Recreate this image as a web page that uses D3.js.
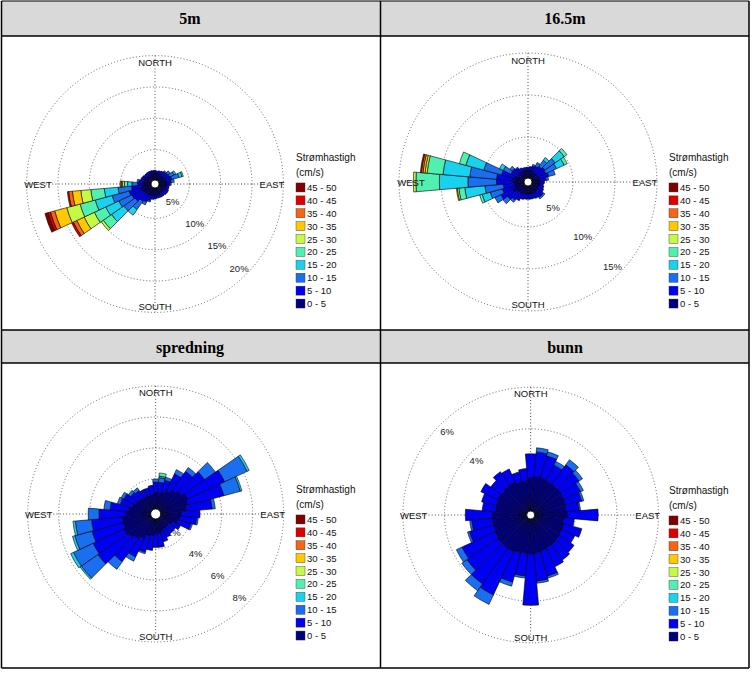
<!DOCTYPE html>
<html><head><meta charset="utf-8">
<script src="https://cdn.jsdelivr.net/npm/d3@7"></script>
<style>body{margin:0;background:#fff;}svg{display:block;}</style>
</head><body>
<script>
// ---- DATA ----
const panelTitles = ["5m", "16.5m", "spredning", "bunn"];
const speedClasses = ["0 - 5","5 - 10","10 - 15","15 - 20","20 - 25","25 - 30","30 - 35","35 - 40","40 - 45","45 - 50"];
const classColors = ["#00007f","#0000f5","#1a6ef0","#18d2ee","#52f0b0","#c4fa44","#ffc800","#f86414","#e00000","#800000"];
const directions = d3.range(0, 360, 10);
const compassLabels = ["NORTH","EAST","SOUTH","WEST"];
const ringTicks5m = [5, 10, 15, 20];
const ringTicks16 = [5, 10, 15];
const ringTicksSpr = [2, 4, 6, 8];
const ringTicksBunn = [2, 4, 6];
// percent per speed class, one row per direction (0,10,...,350 deg)
const freq5m = [
 [1.3,0.4],[1.2,0.4],[1.2,0.5],[1.2,0.6],[1.2,0.7,0.2],[1.2,0.8,0.5],[1.2,0.9,0.8,0.3],[1.3,1.0,1.2,0.5,0.2],
 [1.3,0.8,0.5],[1.3,0.6,0.2],[1.3,0.5],[1.3,0.5],[1.3,0.6],[1.3,0.6],[1.3,0.5],[1.3,0.5],[1.3,0.5],[1.3,0.5],
 [1.3,0.6],[1.3,0.7],[1.4,0.9,0.2],[1.5,1.2,0.5],[1.5,1.4,1.6,1.1],[1.6,1.8,2.2,2.4,1.6,0.4],
 [1.8,1.8,2.3,2.3,2.0,1.8,1.3,0.6,0.3],[1.9,1.9,2.8,2.8,2.5,2.2,2.0,0.7,0.4,0.5],[1.7,1.6,2.15,2.2,2.15,1.6,1.35,0.6,0.2],
 [1.3,1.0,0.9,0.7,0.5,0.3,0.2,0.2],[1.4,0.7,0.3],[1.3,0.5,0.1],[1.3,0.5],[1.3,0.4],[1.3,0.4],[1.3,0.4],[1.3,0.4],[1.3,0.4]
];
const freq16 = [
 [1.0,0.4],[1.0,0.5],[1.0,0.6,0.2],[1.0,0.7,0.5],[0.9,1.0,0.9,0.4],[0.9,1.2,1.5,1.3,0.4],[0.9,1.1,1.4,1.0,0.4],[1.0,1.2,0.8],
 [1.0,0.8,0.3],[1.0,0.6],[1.0,0.5],[1.0,0.6],[1.0,0.7],[1.1,0.8,0.2],[1.1,0.8,0.2],[1.1,0.7],[1.1,0.6],[1.1,0.6],
 [1.1,0.6],[1.1,0.6],[1.1,0.7],[1.2,0.9],[1.2,1.1,0.3],[1.3,1.3,0.7],[1.6,1.6,0.8],[1.3,1.5,1.5,1.0,0.3],
 [1.2,1.4,2.2,2.4,0.7,0.2,0.1],[1.4,2.0,3.4,3.4,2.8,0.3],[1.6,1.8,3.2,3.2,1.9,0.25,0.24,0.2,0.12],[1.3,1.6,2.2,2.2,0.8],
 [0.9,1.0,1.0,0.5],[1.0,0.9,0.4],[1.0,0.7,0.1],[1.0,0.5],[1.0,0.4],[1.0,0.4]
];
const freqSpr = [
 [1.1,0.7,0.2],[1.1,0.7,0.3,0.1,0.2],[1.2,0.8,0.2],[1.4,1.2,0.3],[1.6,1.5,0.3],[1.8,1.8,0.85],[2.0,2.65,1.6,0.15],[1.9,2.4,1.1,0.1],
 [1.7,1.7,0.2],[1.4,1.2],[1.3,1.1,0.1],[1.2,0.9,0.1],[0.9,0.6],[0.8,0.5],[0.8,0.5],[0.8,0.6],[0.9,0.7],[1.0,0.9],
 [1.0,0.9],[1.1,1.0],[1.2,1.1,0.1],[1.5,1.3,0.3],[1.7,1.8,0.6],[1.9,2.4,1.3,0.1],[2.0,2.2,1.4,0.2],[1.9,2.1,1.15,0.15],
 [1.9,2.0,1.05,0.15],[1.7,1.7,0.7],[1.5,1.2,0.4],[1.3,0.8,0.2],[1.2,0.8,0.2],[1.1,0.6,0.2],[1.0,0.6,0.2],[1.0,0.5],[1.0,0.5],[1.0,0.6]
];
const freqBunn = [
 [1.65,1.15],[1.7,1.2,0.2],[1.7,1.1,0.2],[1.65,0.85,0.2],[1.65,1.15,0.3],[1.65,1.05,0.2],[1.6,0.9,0.15],[1.6,0.8,0.1],
 [1.55,0.65,0.06],[1.6,1.5],[1.45,0.51],[1.5,0.9],[1.5,0.7],[1.55,0.85],[1.6,0.9],[1.6,1.0],[1.65,1.25,0.1],[1.7,1.35,0.1],
 [1.75,2.45],[1.7,1.1,0.1],[1.75,1.45,0.2],[1.8,2.3,0.5],[1.8,2.1,0.4],[1.8,1.8,0.3],[1.75,1.75,0.3],[1.7,1.2,0.1],
 [1.7,1.0,0.1],[1.7,1.3],[1.55,0.65],[1.55,0.75],[1.6,0.9],[1.55,0.65],[1.6,0.8],[1.6,0.7],[1.5,0.5],[1.5,0.6]
];

// ---- LAYOUT ----
const W = 753, H = 673;
const svg = d3.select("body").append("svg").attr("width", W).attr("height", H);
const colX = [1.5, 380.5, 749];
const rowY = {h1: [1, 36], p1: [36, 330], h2: [330, 363], p2: [363, 668]};

svg.append("rect").attr("x", colX[0]).attr("y", rowY.h1[0]).attr("width", colX[2]-colX[0]).attr("height", rowY.h1[1]-rowY.h1[0]).attr("fill", "#d9d9d9");
svg.append("rect").attr("x", colX[0]).attr("y", rowY.h2[0]).attr("width", colX[2]-colX[0]).attr("height", rowY.h2[1]-rowY.h2[0]).attr("fill", "#d9d9d9");

const panels = [
  {title: panelTitles[0], data: freq5m, rings: ringTicks5m, cx: 155, cy: 184, r0: 3, k: 6.27, labelBearing: 135, lx: 296, ly: 157, hx: 190, hy: 18},
  {title: panelTitles[1], data: freq16, rings: ringTicks16, cx: 528, cy: 182, r0: 3, k: 8.4, labelBearing: 135, lx: 669, ly: 157, hx: 565, hy: 18},
  {title: panelTitles[2], data: freqSpr, rings: ringTicksSpr, cx: 155.7, cy: 514, r0: 4, k: 15.5, labelBearing: 135, lx: 296, ly: 489, hx: 190, hy: 347},
  {title: panelTitles[3], data: freqBunn, rings: ringTicksBunn, cx: 530.7, cy: 515, r0: 3, k: 20.8, labelBearing: 315, lx: 669, ly: 490, hx: 565, hy: 347}
];

const font = "'Liberation Sans', Arial, sans-serif";
const rad = d => d * Math.PI / 180;

panels.forEach(p => {
  const maxP = p.rings[p.rings.length - 1];
  const r = d3.scaleLinear().domain([0, maxP]).range([p.r0, p.r0 + p.k * maxP]);
  const rOuter = r(maxP);
  const g = svg.append("g").attr("transform", `translate(${p.cx},${p.cy})`);

  svg.append("text").attr("x", p.hx).attr("y", p.hy).attr("text-anchor", "middle").attr("dominant-baseline", "central")
    .attr("font-family", "'Liberation Serif','Times New Roman',serif").attr("font-weight", "bold").attr("font-size", 16)
    .text(p.title);

  g.selectAll("circle.ring").data(p.rings).join("circle").attr("class", "ring")
    .attr("r", d => r(d)).attr("fill", "none").attr("stroke", "#555").attr("stroke-width", 0.9).attr("stroke-dasharray", "1,2.2");
  g.append("line").attr("x1", -rOuter).attr("x2", rOuter).attr("y1", 0).attr("y2", 0)
    .attr("stroke", "#333").attr("stroke-width", 0.9).attr("stroke-dasharray", "1,2.2");
  g.append("line").attr("y1", -rOuter).attr("y2", rOuter).attr("x1", 0).attr("x2", 0)
    .attr("stroke", "#333").attr("stroke-width", 0.9).attr("stroke-dasharray", "1,2.2");

  g.selectAll("text.rl").data(p.rings).join("text").attr("class", "rl")
    .attr("x", d => (r(d) - 9.5) * Math.sin(rad(p.labelBearing)))
    .attr("y", d => -(r(d) - 9.5) * Math.cos(rad(p.labelBearing)))
    .attr("text-anchor", "middle").attr("dominant-baseline", "central")
    .attr("font-family", font).attr("font-size", 9.5).attr("fill", "#222")
    .text(d => d + "%");

  const segs = [];
  p.data.forEach((row, i) => {
    let cum = 0;
    row.forEach((v, c) => {
      if (v > 0) segs.push({dir: directions[i], c, a: cum, b: cum + v});
      cum += v;
    });
  });
  const arc = d3.arc()
    .innerRadius(d => r(d.a)).outerRadius(d => r(d.b))
    .startAngle(d => rad(d.dir - 5)).endAngle(d => rad(d.dir + 5));
  g.selectAll("path.seg").data(segs).join("path").attr("class", "seg")
    .attr("d", arc).attr("fill", d => classColors[d.c])
    .attr("stroke", "#000").attr("stroke-width", 0.6).attr("stroke-linejoin", "round");

  g.append("circle").attr("r", p.r0 + 1).attr("fill", "#fff").attr("stroke", "#000").attr("stroke-width", 0.8);

  const cpos = [[0, -122], [117, 0], [0, 122], [-117, 0]];
  g.selectAll("text.cl").data(compassLabels).join("text").attr("class", "cl")
    .attr("x", (d, i) => cpos[i][0]).attr("y", (d, i) => cpos[i][1])
    .attr("text-anchor", "middle").attr("dominant-baseline", "central")
    .attr("font-family", font).attr("font-size", 9.5).attr("fill", "#111")
    .text(d => d);

  const lg = svg.append("g").attr("transform", `translate(${p.lx},${p.ly})`);
  lg.append("text").attr("x", 0).attr("y", 0).attr("dominant-baseline", "central")
    .attr("font-family", font).attr("font-size", 10).attr("fill", "#111").text("Strømhastigh");
  lg.append("text").attr("x", 0).attr("y", 15).attr("dominant-baseline", "central")
    .attr("font-family", font).attr("font-size", 10).attr("fill", "#111").text("(cm/s)");
  const items = speedClasses.map((s, i) => ({s, i})).reverse();
  const yl = d3.scaleBand().domain(items.map(d => d.s)).range([24, 24 + 12.9 * items.length]);
  const it = lg.selectAll("g.it").data(items).join("g").attr("class", "it")
    .attr("transform", d => `translate(0,${yl(d.s) + yl.bandwidth() / 2})`);
  it.append("rect").attr("x", 0).attr("y", -4.5).attr("width", 9).attr("height", 9)
    .attr("fill", d => classColors[d.i]).attr("stroke", "#333").attr("stroke-width", 0.4);
  it.append("text").attr("x", 11).attr("y", 0).attr("dominant-baseline", "central")
    .attr("font-family", font).attr("font-size", 9.5).attr("fill", "#111").text(d => d.s);
});

const bc = "#000";
function line(x1, y1, x2, y2, w) {
  svg.append("line").attr("x1", x1).attr("y1", y1).attr("x2", x2).attr("y2", y2).attr("stroke", bc).attr("stroke-width", w);
}
line(colX[0], rowY.h1[0], colX[2], rowY.h1[0], 1.2);
line(colX[0], rowY.h1[1], colX[2], rowY.h1[1], 1.5);
line(colX[0], rowY.h2[0], colX[2], rowY.h2[0], 1.5);
line(colX[0], rowY.h2[1], colX[2], rowY.h2[1], 1.5);
line(colX[0], rowY.p2[1], colX[2], rowY.p2[1], 1.5);
line(colX[0], rowY.h1[0], colX[0], rowY.p2[1], 1.5);
line(colX[2], rowY.h1[0], colX[2], rowY.p2[1], 1.5);
line(colX[1], rowY.h1[0], colX[1], rowY.p2[1], 1.5);
</script>
</body></html>
